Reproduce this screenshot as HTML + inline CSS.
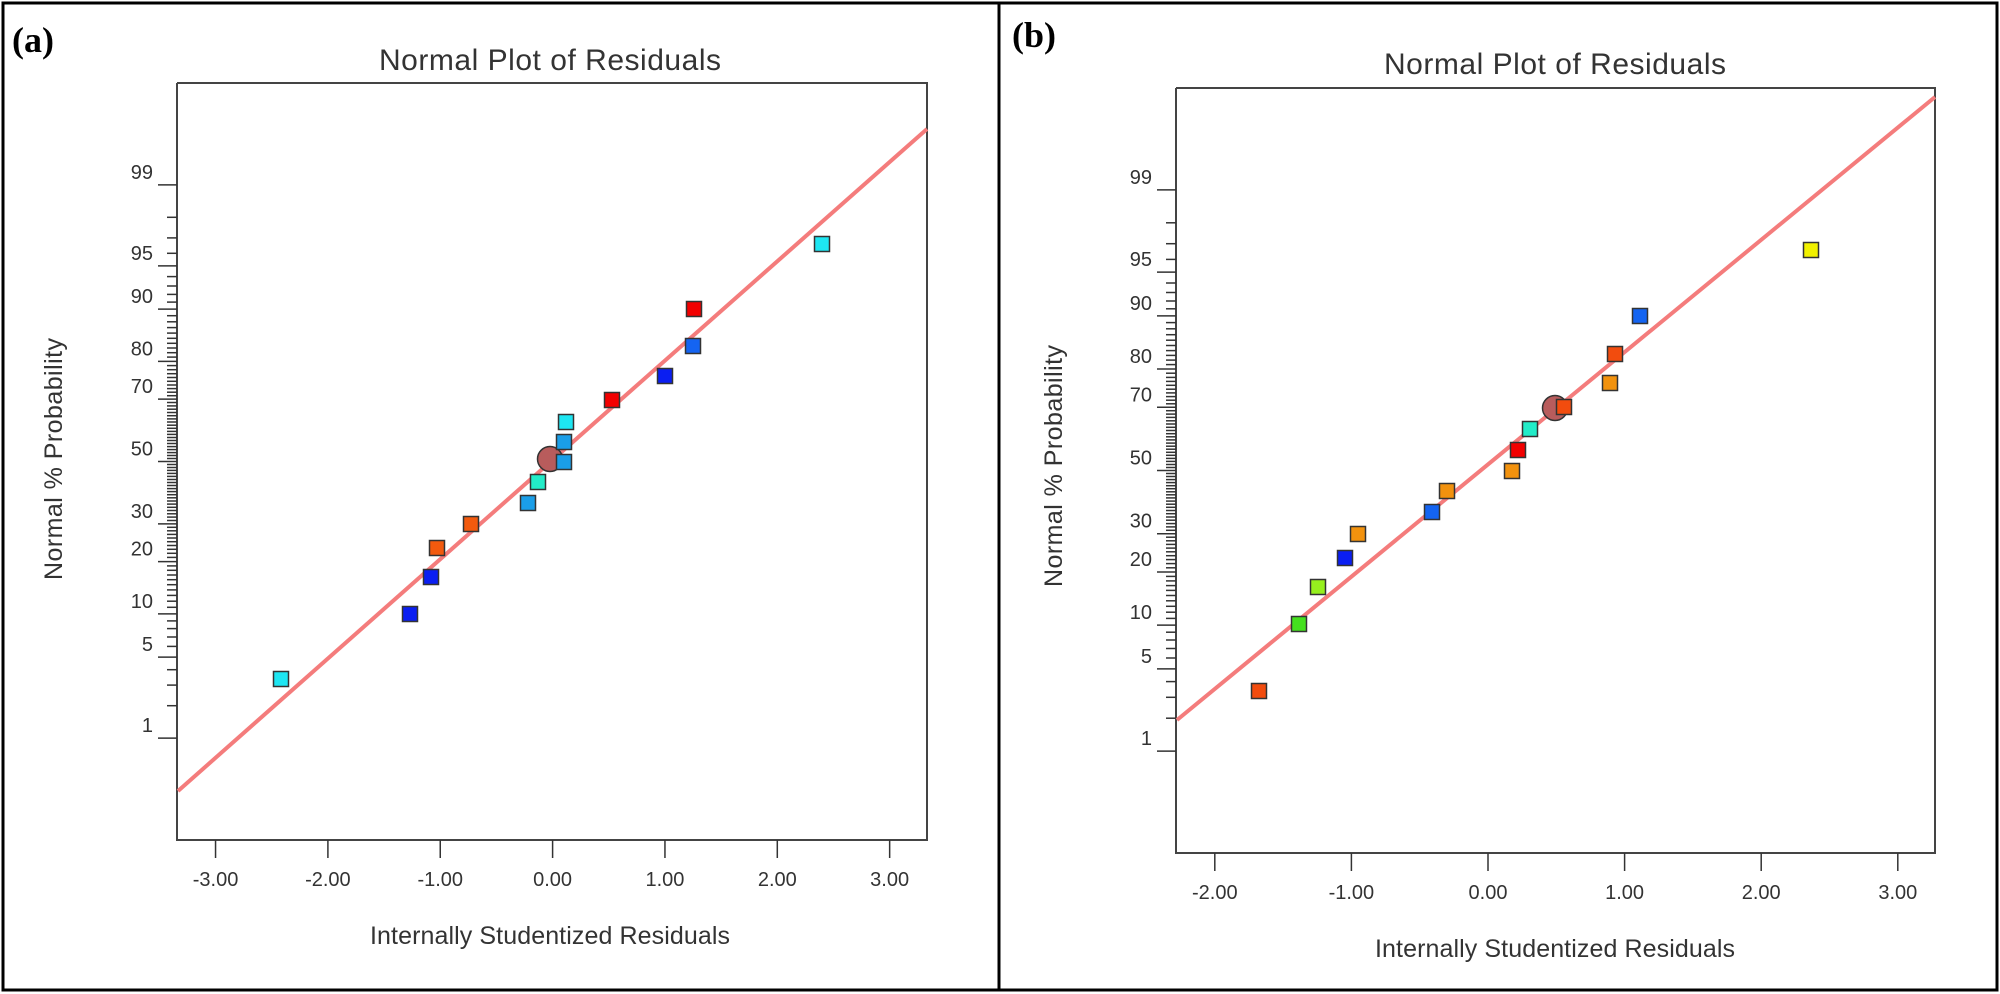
<!DOCTYPE html>
<html><head><meta charset="utf-8"><style>
html,body{margin:0;padding:0;background:#fff;}
svg{display:block;}
text{font-family:"Liberation Sans","DejaVu Sans",sans-serif;fill:#333;}
</style></head><body>
<svg id="s" width="2000" height="994" viewBox="0 0 2000 994" xmlns="http://www.w3.org/2000/svg">
<rect x="3" y="3" width="1994" height="987" fill="#fff" stroke="#000" stroke-width="3"/>
<line x1="999" y1="3" x2="999" y2="990" stroke="#000" stroke-width="3"/>
<text x="12" y="52" style="font-family:'Liberation Serif',serif;font-weight:bold;font-size:36px;fill:#000">(a)</text>
<text x="1012" y="47" style="font-family:'Liberation Serif',serif;font-weight:bold;font-size:36px;fill:#000">(b)</text>
<g id="g"></g>
</svg>
<script>
function probit(p){
 var a=[-3.969683028665376e+01,2.209460984245205e+02,-2.759285104469687e+02,1.383577518672690e+02,-3.066479806614716e+01,2.506628277459239e+00];
 var b=[-5.447609879822406e+01,1.615858368580409e+02,-1.556989798598866e+02,6.680131188771972e+01,-1.328068155288572e+01];
 var c=[-7.784894002430293e-03,-3.223964580411365e-01,-2.400758277161838e+00,-2.549732539343734e+00,4.374664141464968e+00,2.938163982698783e+00];
 var d=[7.784695709041462e-03,3.224671290700398e-01,2.445134137142996e+00,3.754408661907416e+00];
 var pl=0.02425,q,r;
 if(p<pl){q=Math.sqrt(-2*Math.log(p));return (((((c[0]*q+c[1])*q+c[2])*q+c[3])*q+c[4])*q+c[5])/((((d[0]*q+d[1])*q+d[2])*q+d[3])*q+1);}
 if(p>1-pl){q=Math.sqrt(-2*Math.log(1-p));return -(((((c[0]*q+c[1])*q+c[2])*q+c[3])*q+c[4])*q+c[5])/((((d[0]*q+d[1])*q+d[2])*q+d[3])*q+1);}
 q=p-0.5;r=q*q;return (((((a[0]*r+a[1])*r+a[2])*r+a[3])*r+a[4])*r+a[5])*q/(((((b[0]*r+b[1])*r+b[2])*r+b[3])*r+b[4])*r+1);
}
var h='';
function panel(P){
 var L=P.L,R=P.R,T=P.T,B=P.B;
 h+='<text x="'+P.cx+'" y="'+(P.ty)+'" text-anchor="middle" style="font-size:30px" textLength="342">Normal Plot of Residuals</text>';
 h+='<polyline points="'+L+','+T+' '+R+','+T+' '+R+','+B+' '+L+','+B+' '+L+','+T+'" fill="none" stroke="#444" stroke-width="2"/>';
 var majors={1:1,5:1,10:1,20:1,30:1,50:1,70:1,80:1,90:1,95:1,99:1};
 for(var p=1;p<=99;p++){
  var y=P.yc-probit(p/100)*P.ys;
  var len=majors[p]?19:10;
  h+='<line x1="'+(L-len)+'" y1="'+y.toFixed(1)+'" x2="'+L+'" y2="'+y.toFixed(1)+'" stroke="#333" stroke-width="1.5"/>';
  if(majors[p]) h+='<text x="'+(L-24)+'" y="'+(y-6).toFixed(1)+'" text-anchor="end" style="font-size:20px">'+p+'</text>';
 }
 for(var v=P.xmin;v<=P.xmax;v++){
  var x=P.x0+v*P.xs;
  h+='<line x1="'+x+'" y1="'+B+'" x2="'+x+'" y2="'+(B+18)+'" stroke="#333" stroke-width="1.5"/>';
  h+='<text x="'+x+'" y="'+(B+46)+'" text-anchor="middle" style="font-size:20px">'+v.toFixed(2)+'</text>';
 }
 h+='<text x="'+P.cx+'" y="'+P.xly+'" text-anchor="middle" style="font-size:25px" textLength="360">Internally Studentized Residuals</text>';
 h+='<text transform="translate('+P.ylx+','+P.yly+') rotate(-90)" x="0" y="0" text-anchor="middle" style="font-size:25px" textLength="242">Normal % Probability</text>';
 h+='<line x1="'+P.l[0]+'" y1="'+P.l[1]+'" x2="'+P.l[2]+'" y2="'+P.l[3]+'" stroke="#f47c7c" stroke-width="4"/>';
 h+='<circle cx="'+P.c[0]+'" cy="'+P.c[1]+'" r="12.5" fill="#b85c5c" stroke="#333" stroke-width="1.5"/>';
 P.pts.forEach(function(q){
  h+='<rect x="'+(q[0]-7.5)+'" y="'+(q[1]-7.5)+'" width="15" height="15" fill="'+q[2]+'" stroke="#333" stroke-width="1.5"/>';
 });
}
var CY='#1ee6f2',BL='#0a1ef2',B2='#1464f2',LB='#1a9ee8',TE='#22ecc8',OR='#f25a0e',RD='#f20000',GR='#44e01e',YG='#96f01e',OA='#f2920e',ORR='#f24c0e',YE='#f2f200';
panel({L:177,R:927,T:83,B:840,cx:550,ty:70,yc:461.5,ys:118.9,x0:552.6,xs:112.35,xmin:-3,xmax:3,xly:944,ylx:62,yly:459,
 l:[178,791,927,129],c:[550,459],
 pts:[[281,679,CY],[410,614,BL],[431,577,BL],[437,548,OR],[471,524,OR],[528,503,LB],[538,482,TE],[564,462,LB],[564,442,LB],[566,422,CY],[612,400,RD],[665,376,BL],[693,346,B2],[694,309,RD],[822,244,CY]]});
panel({L:1176,R:1935,T:88,B:853,cx:1555,ty:74,yc:470.5,ys:120.6,x0:1488,xs:136.6,xmin:-2,xmax:3,xly:957,ylx:1062,yly:466,
 l:[1177,720,1935,97],c:[1555,408],
 pts:[[1259,691,ORR],[1299,624,GR],[1318,587,YG],[1345,558,BL],[1358,534,OA],[1432,512,B2],[1447,491,OA],[1512,471,OA],[1518,450,RD],[1530,429,TE],[1564,407,ORR],[1610,383,OA],[1615,354,ORR],[1640,316,B2],[1811,250,YE]]});
document.getElementById('g').innerHTML=h;
</script>
</body></html>
